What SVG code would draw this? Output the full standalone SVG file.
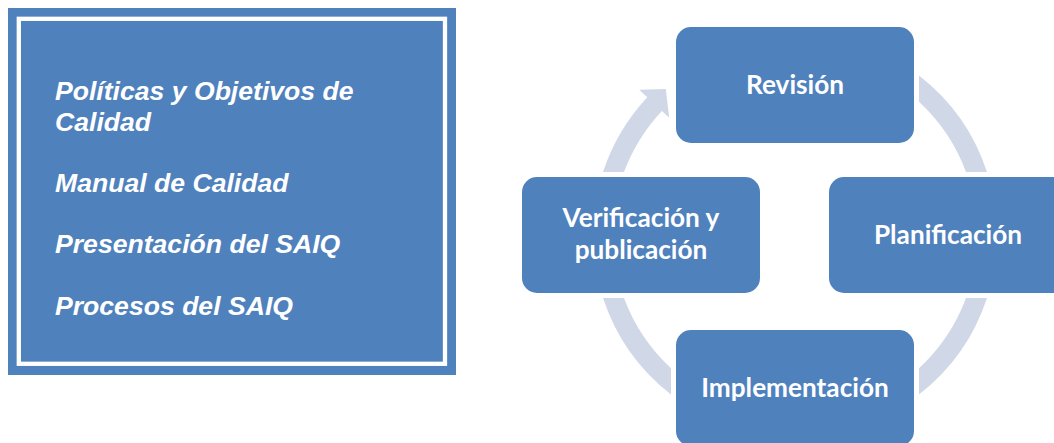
<svg xmlns="http://www.w3.org/2000/svg" width="1054" height="443" viewBox="0 0 1054 443">
<style>
.box{fill:#4F81BD;}
.ring{fill:#D0D8E8;}
.lt{font-family:"Liberation Sans",Arial,sans-serif;font-weight:bold;font-style:italic;font-size:26.6px;fill:#FFFFFF;}
.nt{font-family:Lato,"Open Sans",sans-serif;font-weight:bold;font-size:26.2px;fill:#FFFFFF;text-anchor:middle;}
</style>
<rect x="0" y="0" width="1054" height="443" fill="#FFFFFF"/>
<g id="documentos">
<rect class="box" x="8" y="8" width="448" height="367"/>
<rect x="18.8" y="18.8" width="426.2" height="345" fill="none" stroke="#FFFFFF" stroke-width="4.3"/>
<text class="lt" x="55" y="100">Políticas y Objetivos de</text>
<text class="lt" x="55" y="131">Calidad</text>
<text class="lt" x="55" y="192">Manual de Calidad</text>
<text class="lt" x="55" y="253">Presentación del SAIQ</text>
<text class="lt" x="55" y="315">Procesos del SAIQ</text>
</g>
<g id="connectors">
<path class="ring" d="M 603,172 A 202 202 0 0 1 647.3,97.2 L 639.2,89.7 L 665.8,88.9 L 669.2,117.7 L 661.9,110.9 A 182 182 0 0 0 624,172 Z"/>
<path class="ring" d="M 919,75.5 A 202 202 0 0 1 987,172 L 966,172 A 182 182 0 0 0 919,101.8 Z"/>
<path class="ring" d="M 987,298 A 202 202 0 0 1 919,394.5 L 919,368.2 A 182 182 0 0 0 966,298 Z"/>
<path class="ring" d="M 671,394.5 A 202 202 0 0 1 603,298 L 624,298 A 182 182 0 0 0 671,368.2 Z"/>
</g>
<g id="revision">
<rect class="box" x="676" y="27" width="238" height="116" rx="15"/>
<text class="nt" x="795" y="94">Revisión</text>
</g>
<g id="planificacion">
<rect class="box" x="829" y="177" width="238" height="116" rx="15"/>
<text class="nt" x="948" y="244">Planificación</text>
</g>
<g id="implementacion">
<rect class="box" x="676" y="330" width="238" height="116" rx="15"/>
<text class="nt" x="795" y="397">Implementación</text>
</g>
<g id="verificacion">
<rect class="box" x="522" y="177" width="238" height="116" rx="15"/>
<text class="nt" x="641" y="227">Verificación y</text>
<text class="nt" x="641" y="259">publicación</text>
</g>
</svg>
